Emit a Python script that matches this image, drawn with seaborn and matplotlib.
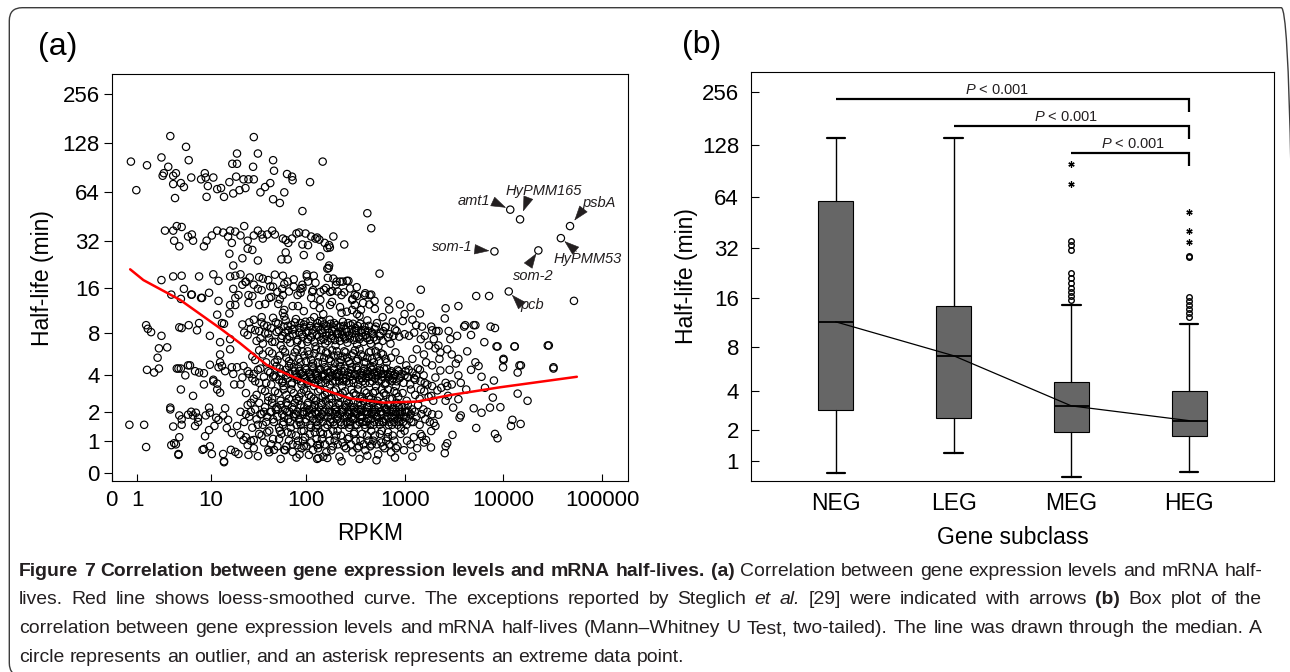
"""Figure 7: mRNA half-life against expression level (scatter + box plot)."""
import matplotlib

matplotlib.use("Agg")
import matplotlib.pyplot as plt
import numpy as np
import pandas as pd
import seaborn as sns
from matplotlib.patches import FancyBboxPatch

W, H = 1290, 672
INK = "#231f20"

# ---------------- panel (a): RPKM vs half-life (min) ----
top_band = [(0.72, 99), (0.95, 66), (1.5, 94), (2.5, 105), (3.3, 142), (5.2, 122), (5.6, 101),
            (2.6, 81), (2.7, 84), (3.1, 92), (3.6, 81), (3.9, 84), (3.6, 72), (4.5, 73), (4.9, 69),
            (3.8, 59), (6.0, 79), (7.8, 77), (8.6, 84), (8.8, 79), (9.3, 70), (10.7, 79), (9.0, 60),
            (11.8, 67), (13, 68), (14, 60), (16, 74), (17.2, 96), (19.3, 96), (19.3, 111), (18.9, 80),
            (22.6, 77), (25.5, 77), (29, 77), (28.5, 92), (29, 140), (32, 111), (17.6, 63), (20.5, 66),
            (23.7, 68), (34, 64), (38, 69), (43, 73), (46, 101), (47, 87), (46, 58), (54, 55), (60, 64),
            (64, 83), (72, 80), (73, 76), (110, 74), (92, 49), (148, 99), (420, 47.5)]

band_32 = [(2.8, 37), (3.6, 37), (4.0, 39.5), (4.6, 39), (3.7, 32), (4.3, 29.5), (5.5, 34), (6.1, 35),
           (6.3, 32), (8.4, 29.5), (9.0, 32), (10.3, 34.5), (11.8, 37), (13.7, 36), (15.5, 34),
           (16.3, 37), (18.5, 36.5), (21, 34.5), (23, 39.5), (25, 32), (29, 34.5), (32, 37), (35, 35),
           (40, 35), (45, 37), (25, 28.5), (28, 28), (17, 31), (16, 26.5), (17.6, 22.3), (22, 24.8),
           (32, 24), (58, 33), (62, 32.3), (72, 33), (80, 35.5), (92, 30.3), (99, 35.5), (113, 34),
           (125, 33), (137, 32.5), (56, 24.4), (65, 24.4), (165, 28.8), (170, 21.5), (172, 30),
           (245, 30.3), (172, 22.3), (460, 38.3), (36, 33), (48, 35), (66, 31), (85, 36), (105, 30),
           (130, 33.5), (155, 31), (190, 34), (62, 27), (95, 26), (140, 25.5), (175, 29)]

band_16 = [(2.5, 18), (3.6, 19), (4.6, 19.2), (4.9, 15.8), (6.1, 14.5), (7.4, 19), (8, 13.8),
           (10.7, 19.6), (12.2, 17.8), (16.3, 19), (18.5, 19.2), (21, 19.6), (23.7, 17.6), (26.3, 18.7),
           (29, 16.8), (32, 15.8), (36, 18.4), (41, 18), (46, 16.3), (51, 15.1), (58, 19.2), (65, 17.6),
           (75, 16.3), (88, 15.8), (102, 19.6), (120, 19.2), (140, 15.1), (165, 21.3), (18.5, 13.8),
           (25.5, 14.4), (42, 13.8), (58, 14.4), (17.6, 15.8), (22, 16.8), (3.4, 14.5), (4.5, 13.6),
           (6.0, 14.5), (7.8, 13.8), (9.6, 14.9), (12.2, 13.2), (16.3, 12.4), (18.5, 12.4), (20, 14.4),
           (25.5, 12.8), (33, 12.4), (44, 14), (52, 12.6), (60, 11.5), (73, 12.2), (82, 14.4),
           (92, 16.8), (116, 15.1), (120, 12.4), (140, 13.4), (176, 12.4), (185, 15.3), (558, 19.8),
           (105, 17.6), (190, 18.4), (222, 17.6), (260, 17.8), (230, 14.4), (295, 13.4), (330, 14.2),
           (460, 14.5), (497, 13.2), (688, 13.2), (1460, 15.6), (2600, 11.8), (3500, 12.2),
           (5300, 14.2), (7150, 14.2), (51500, 13.2), (314, 14.4), (395, 14.4), (443, 14.4),
           (260, 11.2), (295, 11.5), (314, 12.4), (236, 17.6), (205, 17.6), (176, 15.1), (24, 17.5),
           (28, 14.2), (33, 18.8), (38, 12.6), (43, 16.4), (48, 19.5), (54, 13.5), (60, 17.0),
           (67, 15.2), (75, 18.2), (83, 12.2), (92, 16.0), (102, 19.0), (113, 13.8), (125, 17.3),
           (138, 11.8), (152, 15.6), (167, 18.6), (184, 13.0), (202, 16.8), (222, 12.0), (245, 15.0),
           (270, 17.8), (298, 13.6), (328, 16.2), (362, 11.5), (400, 14.8), (440, 12.5), (35, 15.5),
           (57, 15.8), (88, 14.9), (118, 15.5), (160, 16.0), (210, 15.2), (280, 15.9), (58, 11.0),
           (95, 11.3), (150, 10.8), (230, 11.0), (330, 10.8)]

left_sparse = [(1.45, 9.1), (1.55, 8.6), (1.75, 8.16), (2.5, 7.7), (2.3, 6.3), (3.0, 6.4), (4.3, 8.8),
               (4.6, 8.7), (5.6, 9.1), (7.0, 8.4), (7.4, 9.4), (9.8, 7.7), (11.8, 10.7), (13.3, 9.4),
               (14, 9.3), (12.7, 6.96), (16, 10.9), (16.3, 7.3), (16.3, 6.2), (12.7, 5.7), (12.7, 5.0),
               (2.2, 5.4), (1.5, 4.4), (1.95, 4.2), (2.3, 4.5), (4.2, 4.5), (5.1, 4.0), (5.5, 4.75),
               (5.8, 4.75), (6.65, 4.3), (7.4, 4.2), (8.4, 4.15), (4.5, 3.1), (6.3, 2.75), (10.7, 3.7),
               (11.8, 3.45), (11.8, 3.1), (12.7, 2.92), (12.2, 4.6), (13.3, 4.7), (14.4, 4.3), (17, 4.6),
               (17.6, 4.1), (18, 3.4), (21, 3.4), (19.3, 4.6), (22.6, 4.7), (25, 4.3), (22, 3.85),
               (33, 3.5), (29, 4.1), (4.0, 4.5), (8.4, 3.4), (9.8, 4.8), (10.7, 3.6), (4.5, 4.5),
               (0.66, 1.5), (1.34, 1.5), (1.45, 0.83), (3.3, 2.1), (3.6, 1.44), (4.3, 1.85), (4.6, 1.7),
               (4.6, 1.5), (3.4, 0.88), (3.7, 0.93), (4.3, 1.1), (4.2, 0.66), (5.5, 1.88), (6.0, 2.0),
               (6.3, 1.85), (6.8, 1.96), (7.2, 1.76), (6.65, 1.46), (7.2, 1.6), (8.8, 1.85), (9.6, 2.18),
               (9.8, 1.96), (11.5, 1.76), (11, 1.46), (9.6, 1.32), (8.65, 1.13), (9.8, 0.85), (8.1, 0.76),
               (10.3, 0.66), (13.7, 0.66), (14, 0.5), (16.6, 0.76), (18.5, 0.71), (20, 0.66),
               (25.5, 0.64), (32, 0.61), (14.4, 2.15), (13.7, 1.85), (15.5, 1.68), (12.2, 1.68),
               (15, 1.39), (17, 1.23), (19.3, 1.46), (21, 1.17), (22.6, 1.02), (25, 0.88), (29, 1.02),
               (41, 0.76), (47, 0.76), (60, 0.76), (73, 0.71), (95, 0.85), (130, 0.88), (134, 0.57),
               (165, 0.57), (107, 0.64), (82, 0.88), (3.3, 2.18), (3.9, 0.9), (4.2, 0.64), (8.4, 0.78),
               (14, 0.48)]

right_sparse = [(1430, 10.9), (2550, 10.1), (960, 9.7), (525, 9.4), (1310, 9.1), (1500, 8.9),
                (1860, 8.9), (4000, 8.9), (5200, 9.1), (7400, 8.9), (8200, 8.7), (883, 7.6), (1110, 7.7),
                (1460, 7.3), (2090, 8.3), (2790, 8.3), (2900, 7.3), (3400, 7.7), (4700, 7.8),
                (6400, 6.96), (8500, 6.5), (12900, 6.5), (28700, 6.6), (2300, 5.9), (2050, 6.3),
                (2700, 6.2), (4300, 6.0), (10000, 5.2), (9900, 4.6), (14500, 4.75), (13900, 4.2),
                (32000, 4.5), (5200, 5.0), (4700, 4.4), (5600, 4.7), (3500, 4.0), (6000, 3.9),
                (8000, 3.65), (6500, 3.2), (13900, 2.87), (17500, 2.5), (7800, 2.66), (9300, 2.2),
                (7300, 2.18), (6000, 1.96), (5000, 2.15), (3700, 1.85), (3600, 1.76), (5300, 1.39),
                (12300, 1.68), (14900, 1.53), (11900, 1.46), (8200, 1.2), (8700, 1.07), (3050, 1.17),
                (2700, 0.93), (2600, 0.85), (2550, 0.68), (1850, 0.82), (1650, 1.02), (3500, 2.58),
                (3100, 2.18), (2600, 2.5), (2200, 1.88), (1975, 1.57), (2050, 1.46), (1860, 1.29),
                (1500, 1.13), (2350, 3.2), (2150, 3.05), (2750, 2.75), (4200, 3.1), (3700, 3.5),
                (3000, 3.4), (2700, 3.3), (1860, 2.75), (1900, 3.3), (1600, 3.5), (1460, 3.1),
                (3300, 4.9), (3500, 5.3), (2300, 4.35), (2850, 4.4), (1900, 4.75), (1650, 5.0),
                (2050, 3.85), (2600, 3.5), (2250, 5.3), (3000, 5.7), (1430, 4.4), (1310, 4.0),
                (1200, 5.3), (1040, 4.75), (1975, 7.3), (1760, 6.6), (2200, 6.6), (1330, 6.2),
                (1570, 5.7), (2210, 8.3), (4100, 9.1), (5000, 9.1), (8700, 6.5), (13000, 6.5),
                (15000, 4.75), (28000, 6.6), (32000, 4.6), (10000, 5.3), (350, 10.5), (420, 9.8),
                (600, 10.3), (760, 9.6), (1000, 10.8), (1200, 9.9), (700, 11.6), (900, 12.5),
                (1150, 12.0), (380, 12.8), (500, 11.7), (640, 8.9), (800, 8.5), (1000, 7.9), (1250, 8.1),
                (1600, 7.7), (1900, 8.4)]

# dense cloud, band by band (~8, ~5.5, ~4, ~3, ~2 and ~1 min)
core_8 = [(22, 9.2), (25, 7.8), (27, 8.6), (29, 9.9), (31, 7.1), (33, 8.3), (35, 9.5), (36, 6.8),
          (38, 8.0), (40, 9.0), (42, 7.4), (44, 8.7), (46, 10.2), (48, 7.0), (50, 8.2), (52, 9.3),
          (55, 6.6), (57, 7.7), (59, 8.9), (62, 9.8), (64, 7.3), (66, 8.4), (69, 6.9), (71, 9.1),
          (74, 7.9), (76, 8.6), (79, 10.0), (82, 7.2), (85, 8.1), (88, 9.4), (90, 6.7), (93, 7.6),
          (96, 8.8), (99, 9.6), (103, 7.0), (106, 8.3), (110, 9.0), (113, 7.5), (117, 8.5), (121, 10.3),
          (125, 6.5), (129, 7.8), (133, 8.9), (138, 9.7), (142, 7.2), (147, 8.0), (152, 9.2), (157, 6.8),
          (162, 7.7), (168, 8.6), (174, 9.9), (180, 7.4), (186, 8.3), (193, 9.4), (200, 6.6), (207, 7.9),
          (214, 8.8), (222, 7.1), (230, 8.2), (238, 9.6), (246, 7.5), (255, 8.5), (264, 6.9), (274, 7.8),
          (284, 9.1), (295, 8.0), (306, 7.2), (318, 8.7), (330, 6.7), (343, 7.6), (356, 9.3), (370, 8.1),
          (385, 7.0), (400, 8.4), (418, 7.4), (436, 9.0), (455, 6.8), (475, 7.9), (497, 8.6), (520, 7.2),
          (545, 6.5), (570, 8.0), (600, 7.1), (640, 8.8), (680, 7.5), (720, 6.8), (770, 7.7), (830, 8.3),
          (35, 10.3), (60, 10.4), (23, 8.1), (26, 9.5), (30, 8.4), (34, 7.4), (37, 9.1), (41, 8.0),
          (45, 7.0), (49, 9.5), (53, 8.4), (56, 7.4), (61, 8.1), (65, 9.0), (68, 7.6), (73, 8.5),
          (77, 9.5), (81, 7.0), (86, 8.7), (91, 7.9), (95, 9.2), (101, 8.1), (105, 7.3), (111, 9.7),
          (116, 8.0), (122, 7.0), (127, 8.8), (131, 9.4), (136, 7.6), (141, 8.4), (146, 9.6), (151, 7.3),
          (156, 8.5), (161, 9.0), (166, 7.1), (172, 8.1), (178, 9.3), (184, 7.7), (190, 8.8), (197, 7.2),
          (204, 9.1), (211, 8.0), (218, 7.5), (226, 8.9), (234, 7.8), (242, 9.0), (251, 7.3), (260, 8.2),
          (269, 9.4), (279, 7.4), (290, 8.5), (301, 9.3), (312, 7.5), (324, 8.3), (336, 9.0), (349, 7.3),
          (363, 8.4), (377, 7.6), (392, 8.9), (408, 7.8), (425, 8.3), (444, 7.2), (465, 8.1), (488, 7.5),
          (512, 8.9), (560, 7.7), (610, 8.3), (700, 7.9)]

core_5 = [(28, 5.5), (33, 6.1), (39, 5.0), (45, 5.8), (51, 5.2), (58, 6.2), (63, 5.4), (70, 4.9),
          (77, 5.9), (84, 5.3), (92, 6.0), (100, 5.1), (108, 5.7), (118, 4.9), (127, 6.2), (137, 5.5),
          (148, 5.0), (160, 5.9), (172, 5.3), (185, 6.1), (198, 4.9), (212, 5.6), (228, 5.2), (245, 6.0),
          (262, 5.4), (282, 4.9), (303, 5.8), (325, 5.1), (350, 6.2), (376, 5.5), (405, 5.0), (437, 5.9),
          (470, 5.3), (510, 6.0), (555, 5.1), (605, 5.7), (660, 5.0), (730, 5.4), (810, 5.9), (900, 5.2),
          (30, 5.2), (36, 5.7), (42, 6.0), (48, 5.0), (54, 5.6), (61, 5.9), (67, 5.1), (74, 5.5),
          (81, 6.2), (88, 5.0), (96, 5.6), (104, 6.0), (113, 5.2), (122, 5.8), (132, 5.0), (142, 6.1),
          (153, 5.4), (166, 5.8), (179, 5.1), (192, 5.6), (206, 6.0), (220, 5.0), (236, 5.5), (253, 5.9),
          (272, 5.1), (292, 5.6), (314, 6.1), (337, 5.3), (363, 5.7), (390, 5.0), (420, 5.4), (455, 6.0),
          (490, 5.0), (530, 5.5), (580, 5.8), (640, 5.3)]

core_4 = [(26, 4.1), (30, 3.6), (34, 4.5), (37, 3.9), (41, 4.3), (44, 3.4), (47, 4.0), (50, 4.7),
          (53, 3.7), (56, 4.2), (59, 3.3), (62, 4.4), (65, 3.8), (68, 4.1), (72, 3.5), (75, 4.6),
          (78, 4.0), (82, 3.7), (86, 4.3), (90, 3.4), (94, 4.0), (98, 4.5), (102, 3.6), (107, 4.2),
          (111, 3.9), (116, 4.7), (121, 3.3), (126, 4.1), (131, 3.8), (137, 4.4), (143, 3.5), (149, 4.0),
          (155, 4.6), (161, 3.7), (168, 4.2), (175, 3.4), (182, 4.0), (190, 4.5), (198, 3.6), (206, 4.1),
          (215, 3.9), (224, 4.7), (233, 3.3), (243, 4.3), (253, 3.8), (264, 4.0), (275, 3.5), (287, 4.4),
          (299, 3.7), (312, 4.1), (325, 4.6), (339, 3.4), (353, 4.0), (368, 3.8), (384, 4.3), (400, 3.5),
          (417, 4.1), (435, 3.9), (453, 4.6), (472, 3.6), (492, 4.2), (513, 3.3), (535, 4.0), (558, 4.4),
          (582, 3.7), (607, 4.1), (633, 3.4), (660, 4.5), (688, 3.9), (717, 4.2), (748, 3.6), (780, 4.0),
          (815, 3.3), (850, 4.4), (890, 3.8), (930, 4.1), (975, 3.5), (1020, 4.3), (1080, 3.9),
          (1140, 3.4), (1200, 4.2), (1280, 3.7), (1360, 4.5), (1450, 3.6), (1560, 4.0), (1700, 3.4),
          (46, 3.9), (88, 4.1), (132, 4.0), (176, 3.9), (220, 4.0), (290, 4.1), (380, 4.0), (470, 3.9),
          (580, 4.1), (720, 4.0), (57, 3.5), (115, 3.6), (240, 3.6), (470, 4.4),
          (28, 3.8), (32, 4.4), (39, 3.5), (43, 4.2), (49, 3.9), (54, 4.5), (58, 3.6), (63, 4.0),
          (67, 4.7), (71, 3.4), (77, 4.3), (81, 3.9), (84, 4.6), (89, 3.6), (93, 4.2), (97, 3.8),
          (101, 4.4), (105, 3.5), (110, 4.1), (114, 3.8), (119, 4.5), (124, 3.5), (129, 4.2), (135, 3.7),
          (141, 4.4), (146, 3.9), (152, 4.1), (158, 3.5), (165, 4.4), (171, 3.8), (178, 4.2), (186, 3.6),
          (194, 4.4), (202, 3.9), (211, 4.2), (219, 3.6), (228, 4.3), (238, 3.8), (248, 4.5), (258, 3.6),
          (270, 4.2), (281, 3.9), (293, 4.6), (305, 3.5), (318, 4.0), (332, 4.4), (346, 3.7), (361, 4.2),
          (376, 3.6), (392, 4.5), (409, 3.8), (426, 4.3), (444, 3.5), (463, 4.0), (482, 4.6), (503, 3.8),
          (524, 4.2), (546, 3.6), (570, 4.3), (594, 3.9), (620, 4.5), (646, 3.5), (675, 4.1), (704, 3.7),
          (735, 4.3), (766, 3.8), (800, 4.1), (835, 3.6), (872, 4.3), (910, 3.9), (1000, 4.0),
          (1100, 4.4), (1250, 3.8)]

core_3 = [(24, 2.9), (29, 2.6), (35, 3.1), (41, 2.7), (48, 3.0), (55, 2.5), (63, 2.8), (71, 3.1),
          (80, 2.6), (90, 2.9), (101, 3.0), (113, 2.7), (126, 2.5), (140, 3.1), (156, 2.8), (173, 2.6),
          (192, 3.0), (213, 2.7), (236, 2.9), (262, 2.5), (290, 3.1), (321, 2.8), (355, 2.6), (393, 3.0),
          (435, 2.7), (480, 2.9), (530, 2.5), (585, 3.1), (645, 2.8), (710, 2.6), (785, 3.0), (865, 2.7),
          (955, 2.9), (1050, 2.5), (1160, 3.1), (1280, 2.8), (1420, 2.6), (1580, 3.0), (1750, 2.7),
          (1950, 2.5), (31, 2.8), (38, 3.0), (45, 2.6), (52, 2.9), (59, 3.1), (67, 2.6), (75, 2.9),
          (85, 2.7), (95, 3.1), (107, 2.8), (120, 2.6), (133, 3.0), (148, 2.7), (164, 2.9), (182, 2.6),
          (202, 3.1), (224, 2.8), (249, 3.0), (276, 2.7), (305, 2.9), (337, 3.1), (373, 2.7), (413, 2.9),
          (457, 2.6), (505, 3.0), (558, 2.7), (616, 2.9), (680, 3.1), (752, 2.6), (830, 2.9)]

core_2 = [(21, 2.0), (23, 1.6), (25, 2.3), (26, 1.8), (28, 1.4), (30, 2.1), (31, 1.7), (33, 2.4),
          (35, 1.9), (36, 1.5), (38, 2.2), (40, 1.8), (42, 1.3), (43, 2.0), (45, 2.4), (47, 1.6),
          (49, 2.1), (51, 1.8), (53, 1.4), (55, 2.3), (57, 1.9), (59, 1.6), (61, 2.1), (63, 2.4),
          (66, 1.7), (68, 2.0), (70, 1.4), (72, 2.2), (75, 1.8), (77, 2.4), (80, 1.5), (82, 2.0),
          (85, 1.7), (88, 2.3), (90, 1.3), (93, 1.9), (96, 2.2), (99, 1.6), (102, 2.0), (105, 2.4),
          (109, 1.8), (112, 1.4), (116, 2.1), (119, 1.7), (123, 2.3), (127, 1.9), (131, 1.5), (135, 2.2),
          (139, 1.8), (143, 2.4), (148, 1.6), (152, 2.0), (157, 1.4), (162, 2.1), (167, 1.8), (172, 2.3),
          (177, 1.6), (183, 2.0), (189, 1.3), (195, 1.9), (201, 2.2), (207, 1.7), (214, 2.4), (221, 1.9),
          (228, 1.5), (235, 2.1), (243, 1.8), (250, 2.3), (258, 1.6), (266, 2.0), (275, 1.4), (284, 2.2),
          (293, 1.8), (302, 2.4), (312, 1.7), (322, 2.0), (332, 1.5), (343, 2.1), (354, 1.8), (365, 2.3),
          (377, 1.6), (389, 2.0), (402, 1.4), (415, 2.2), (428, 1.9), (442, 2.4), (456, 1.7), (471, 2.0),
          (486, 1.5), (502, 2.1), (518, 1.8), (535, 2.3), (552, 1.6), (570, 2.0), (588, 1.3), (607, 1.9),
          (627, 2.2), (647, 1.7), (668, 2.0), (690, 1.5), (712, 2.3), (735, 1.8), (759, 2.1), (784, 1.6),
          (810, 1.9), (836, 2.4), (863, 1.7), (891, 2.0), (920, 1.4), (950, 2.2), (981, 1.8), (1013, 2.0),
          (1046, 1.5), (1080, 2.3), (1115, 1.7), (1152, 1.9), (1190, 2.1), (1230, 1.6), (1270, 2.0),
          (1320, 1.8), (1370, 2.3), (1420, 1.5), (1480, 1.9), (1550, 2.1), (1620, 1.7), (1700, 2.0),
          (1800, 1.6), (1900, 1.9), (27, 2.0), (34, 1.9), (44, 2.0), (52, 2.1), (64, 2.0), (76, 1.9),
          (92, 2.0), (108, 2.1), (124, 2.0), (146, 1.9), (170, 2.0), (198, 2.1), (232, 2.0), (270, 1.9),
          (310, 2.0), (360, 2.1), (420, 2.0), (490, 1.9), (570, 2.0), (660, 2.1), (770, 2.0), (900, 1.9),
          (1050, 2.0), (39, 1.6), (58, 1.5), (86, 1.6), (128, 1.6), (190, 1.6), (280, 1.6), (410, 1.6),
          (600, 1.6), (880, 1.6), (24, 1.9), (27, 2.4), (32, 1.5), (37, 2.0), (41, 2.5), (46, 1.7),
          (50, 2.2), (54, 1.3), (60, 1.8), (65, 2.3), (69, 1.6), (74, 2.1), (79, 1.9), (84, 2.5),
          (89, 1.5), (95, 2.0), (100, 1.7), (104, 2.3), (111, 1.5), (115, 1.9), (121, 2.2), (126, 1.4),
          (133, 2.0), (137, 1.7), (145, 2.3), (151, 1.8), (159, 2.5), (165, 1.5), (174, 2.0), (181, 1.7),
          (187, 2.4), (196, 1.5), (204, 2.0), (211, 1.8), (219, 2.3), (226, 1.6), (238, 2.0), (247, 1.5),
          (254, 2.2), (262, 1.8), (272, 2.4), (280, 1.5), (290, 2.0), (298, 1.7), (308, 2.2), (318, 1.5),
          (327, 1.9), (338, 2.4), (349, 1.6), (359, 2.0), (372, 1.8), (383, 2.5), (395, 1.5), (409, 2.0),
          (422, 1.7), (436, 2.2), (450, 1.5), (464, 1.9), (480, 2.4), (495, 1.6), (512, 2.0), (528, 1.8),
          (546, 2.2), (562, 1.5), (580, 1.9), (598, 2.4), (618, 1.6), (638, 2.1), (658, 1.8), (680, 2.3),
          (702, 1.6), (724, 2.0), (748, 1.5), (772, 2.2), (797, 1.8), (822, 2.0), (850, 1.5), (878, 2.2),
          (906, 1.8), (935, 2.0), (966, 1.6), (998, 2.3), (1030, 1.8), (1100, 2.0), (1170, 1.6)]

core_1 = [(24, 1.1), (29, 0.8), (33, 1.2), (37, 0.95), (42, 0.7), (46, 1.05), (51, 0.85), (56, 1.2),
          (61, 0.75), (67, 1.0), (73, 0.9), (79, 1.15), (86, 0.65), (93, 1.0), (101, 0.85), (109, 1.2),
          (118, 0.75), (128, 1.05), (138, 0.9), (149, 1.2), (161, 0.7), (174, 1.0), (188, 0.85),
          (203, 1.15), (219, 0.6), (236, 0.95), (255, 0.8), (275, 1.1), (297, 0.7), (320, 1.0),
          (345, 0.85), (372, 1.2), (401, 0.75), (432, 1.0), (466, 0.9), (502, 1.15), (541, 0.65),
          (583, 0.95), (628, 0.8), (677, 1.1), (730, 0.7), (787, 1.0), (848, 0.85), (914, 1.2),
          (985, 0.75), (1060, 1.0), (1150, 0.9), (1240, 1.1), (1340, 0.8), (1450, 1.2), (1570, 0.95),
          (40, 1.25), (65, 1.25), (95, 1.3), (140, 1.25), (210, 1.3), (310, 1.25), (460, 1.3),
          (680, 1.25), (1000, 1.3), (55, 0.55), (80, 0.58), (130, 0.55), (230, 0.5), (350, 0.55),
          (520, 0.52), (800, 0.58), (1200, 0.6), (150, 0.6), (420, 0.62), (27, 1.0), (35, 1.15),
          (44, 0.9), (53, 1.05), (63, 0.85), (71, 1.2), (83, 1.0), (90, 0.8), (98, 1.1), (113, 0.95),
          (123, 1.25), (133, 0.8), (145, 1.05), (156, 0.9), (168, 1.2), (181, 0.75), (196, 1.0),
          (211, 0.9), (227, 1.15), (245, 0.85), (265, 1.05), (286, 0.9), (308, 1.2), (333, 0.8),
          (358, 1.0), (386, 0.9), (416, 1.15), (449, 0.85), (484, 1.0), (521, 0.9), (562, 1.2),
          (605, 0.85), (652, 1.0), (703, 0.9), (758, 1.15), (817, 0.8)]

# exceptions flagged by Steglich et al.
genes = ["amt1", "HyPMM165", "psbA", "HyPMM53", "som-1", "som-2", "pcb"]
gene_rpkm = [11700, 14700, 47000, 38000, 8100, 22500, 11300]
gene_hl = [50, 43.5, 39.5, 33.2, 27.4, 27.8, 15.2]

# loess curve
loess_rpkm = [0.69, 1.3, 4.4, 12.7, 20.8, 39.6, 87, 176, 281, 611, 1333, 2890, 9250, 55100]
loess_hl = [21.1, 18.0, 13.4, 8.67, 6.84, 4.78, 3.69, 2.97, 2.62, 2.41, 2.46, 2.79, 3.23, 3.9]

# ---------------- panel (b): box plot per gene subclass ----------------------
subclasses = ["NEG", "LEG", "MEG", "HEG"]
box_q1 = [2.91, 2.54, 1.92, 1.78]
box_med = [11.5, 7.0, 3.13, 2.40]
box_q3 = [60.4, 14.4, 4.68, 4.03]
box_lo = [0.715, 1.23, 0.627, 0.73]
box_hi = [139.8, 139.8, 14.5, 11.2]
outliers = {"NEG": [], "LEG": [],
            "MEG": [35.3, 33.4, 31.2, 22.8, 21.3, 19.8, 18.5, 17.5, 16.6, 15.7],
            "HEG": [28.2, 28.8, 16.3, 15.4, 14.6, 13.8, 13.0, 12.3]}
extremes = {"MEG": [99, 75.5], "HEG": [52.3, 40.5, 34.6]}

# Mann-Whitney comparisons against HEG
cmp_from = [0, 1, 2]
cmp_level = [234, 164, 114]
cmp_drop = [198, 138, 96.4]
cmp_text = ["$P$ < 0.001", "$P$ < 0.001", "$P$ < 0.001"]
cmp_text_x = [1.366, 1.953, 2.524]
cmp_text_y = [248.7, 174.5, 122]

# caption runs: (text, weight, style); the first three lines are justified
caption_lines = [
    [("Figure 7 Correlation between gene expression levels and mRNA half-lives.", "bold", "normal"),
     ("(a)", "bold", "normal"),
     ("Correlation between gene expression levels and mRNA half-", "normal", "normal")],
    [("lives. Red line shows loess-smoothed curve. The exceptions reported by Steglich", "normal", "normal"),
     ("et al.", "normal", "italic"),
     ("[29] were indicated with arrows", "normal", "normal"),
     ("(b)", "bold", "normal"),
     ("Box plot of the", "normal", "normal")],
    [("correlation between gene expression levels and mRNA half-lives (Mann\u2013Whitney U Test, "
      "two-tailed). The line was drawn through the median. A", "normal", "normal")],
    [("circle represents an outlier, and an asterisk represents an extreme data point.", "normal", "normal")],
]
caption_justify = [True, True, True, False]
caption_baselines = [576, 604.5, 633, 661.5]


def log10p(x):
    return np.log10(np.maximum(np.asarray(x, dtype=float) + 1.0, 1e-12))


def exp10m(u):
    return np.power(10.0, np.asarray(u, dtype=float)) - 1.0


def log2p(y):
    return np.log2(np.maximum(np.asarray(y, dtype=float) + 1.0, 1e-12))


def exp2m(u):
    return np.power(2.0, np.asarray(u, dtype=float)) - 1.0


def px_rect(x0, y0, x1, y1):
    return [x0 / W, 1 - y1 / H, (x1 - x0) / W, (y1 - y0) / H]


sns.set_theme(style="ticks", rc={
    "axes.edgecolor": "black", "axes.linewidth": 0.8, "text.color": "black",
    "axes.labelcolor": "black", "xtick.color": "black", "ytick.color": "black",
})
plt.rcParams["font.family"] = ["Liberation Sans", "DejaVu Sans"]
plt.rcParams["mathtext.fontset"] = "custom"
plt.rcParams["mathtext.rm"] = "Liberation Sans"
plt.rcParams["mathtext.it"] = "Liberation Sans:italic"

fig = plt.figure(figsize=(W / 100, H / 100), dpi=100)
fig.patch.set_facecolor("white")

# ---------------- (a) scatter ----------------
ax1 = fig.add_axes(px_rect(111.7, 74.3, 628.3, 481))
ax1.set_xscale("function", functions=(log10p, exp10m))
ax1.set_yscale("function", functions=(log2p, exp2m))

points = pd.DataFrame(top_band + band_32 + band_16 + left_sparse + right_sparse + core_8 + core_5
                      + core_4 + core_3 + core_2 + core_1 + list(zip(gene_rpkm, gene_hl)),
                      columns=["rpkm", "hl"])
sns.scatterplot(data=points, x="rpkm", y="hl", ax=ax1, s=28, linewidth=0.85, legend=False)
dots = ax1.collections[-1]
dots.set_facecolor("none")
dots.set_edgecolor("black")

sns.lineplot(x=loess_rpkm, y=loess_hl, sort=False, estimator=None, color="#ff0000", lw=1.8, ax=ax1)

# arrows + labels: (text dx, dy, ha) and (arrow base dx, dy, gap), in pixels
label_pos = {"amt1": (-20, 9, "right"), "HyPMM165": (24, 28, "center"), "psbA": (12, 23, "left"),
             "HyPMM53": (27, -21, "center"), "som-1": (-22, 4, "right"), "som-2": (-5, -26, "center"),
             "pcb": (12, -14, "left")}
arrow_pos = {"amt1": (-16.6, 7.7, 4.6), "HyPMM165": (7.5, 19.7, 8.5), "psbA": (13.3, 17, 7),
             "HyPMM53": (15.7, -13.3, 4.6), "som-1": (-18.5, 2, 5), "som-2": (-10, -15, 3.5),
             "pcb": (13.7, -14.7, 4.6)}
for name, gx, gy in zip(genes, gene_rpkm, gene_hl):
    tx, ty, ha = label_pos[name]
    bx, by, gap = arrow_pos[name]
    ax1.annotate(name, xy=(gx, gy), xytext=(tx, ty), textcoords="offset pixels", ha=ha, va="center",
                 fontsize=10.5, fontstyle="italic", color=INK)
    ax1.annotate("", xy=(gx, gy), xytext=(bx, by), textcoords="offset pixels",
                 arrowprops=dict(arrowstyle="-|>,head_length=1.0,head_width=0.34", mutation_scale=10,
                                 color=INK, lw=0.4, shrinkA=0, shrinkB=gap * 0.72))

ax1.set_xlim(0.1, 182400)
ax1.set_ylim(0.137, 339)
ax1.set_xticks([0.1, 1, 10, 100, 1000, 10000, 100000],
               ["0", "1", "10", "100", "1000", "10000", "100000"])
ax1.set_yticks([0.266, 1, 2, 4, 8, 16, 32, 64, 128, 256],
               ["0", "1", "2", "4", "8", "16", "32", "64", "128", "256"])
ax1.minorticks_off()
ax1.tick_params(axis="y", direction="out", length=5.8, width=0.8, pad=2.7, labelsize=16)
ax1.tick_params(axis="x", direction="in", length=5, width=0.8, pad=6.3, labelsize=16)
ax1.set_xlabel("RPKM", fontsize=16.5, labelpad=8)
ax1.set_ylabel("Half-life (min)", fontsize=16.5, labelpad=6)

# ---------------- (b) box plot ----------------
ax2 = fig.add_axes(px_rect(750.7, 71.7, 1274.3, 481.3))
ax2.set_yscale("function", functions=(log2p, exp2m))
stats = [dict(med=box_med[i], q1=box_q1[i], q3=box_q3[i], whislo=box_lo[i], whishi=box_hi[i],
              fliers=outliers[g]) for i, g in enumerate(subclasses)]
ax2.bxp(stats, positions=range(len(subclasses)), widths=0.297, capwidths=0.155, patch_artist=True,
        boxprops=dict(facecolor="#666666", edgecolor="black", linewidth=0.8),
        whiskerprops=dict(color="black", linewidth=1.0),
        capprops=dict(color="black", linewidth=1.6),
        medianprops=dict(color="black", linewidth=1.3),
        flierprops=dict(marker="o", markerfacecolor="none", markeredgecolor="black",
                        markersize=4.0, markeredgewidth=1.0),
        manage_ticks=False)
for g, vals in extremes.items():
    pos = subclasses.index(g)
    ax2.plot([pos] * len(vals), vals, ls="none", marker=(6, 2, 0), ms=4.5, mew=0.9, color="black")

sns.lineplot(x=list(range(len(subclasses))), y=box_med, estimator=None, color="black", lw=0.9,
             ax=ax2, zorder=5)

last = len(subclasses) - 1
for x0, lvl, drop, txt, tx, ty in zip(cmp_from, cmp_level, cmp_drop, cmp_text, cmp_text_x, cmp_text_y):
    ax2.plot([x0, last, last], [lvl, lvl, drop], color="black", lw=1.6, solid_capstyle="butt",
             solid_joinstyle="miter")
    ax2.text(tx, ty, txt, ha="center", va="baseline", fontsize=10.5, color=INK)

ax2.set_xlim(-0.721, 3.721)
ax2.set_ylim(0.53, 336)
ax2.set_xticks(range(len(subclasses)), subclasses)
ax2.set_yticks([1, 2, 4, 8, 16, 32, 64, 128, 256],
               ["1", "2", "4", "8", "16", "32", "64", "128", "256"])
ax2.minorticks_off()
ax2.tick_params(axis="y", direction="in", length=5.5, width=0.8, pad=8.4, labelsize=16)
ax2.tick_params(axis="x", length=0, pad=7.5, labelsize=16.5)
ax2.set_xlabel("Gene subclass", fontsize=16.5, labelpad=8)
ax2.set_ylabel("Half-life (min)", fontsize=16.5, labelpad=3)

fig.text(38 / W, 1 - 47 / H, "(a)", fontsize=23, ha="left", va="center")
fig.text(682 / W, 1 - 45 / H, "(b)", fontsize=23, ha="left", va="center")

# rounded frame around the whole figure (right and bottom edges sit just off the canvas)
fig.add_artist(FancyBboxPatch((0.093, -0.04), 12.85, 6.683,
                              boxstyle="round,pad=0,rounding_size=0.13",
                              transform=fig.dpi_scale_trans, fill=False, ec="#3c3c3c", lw=1.0))

# caption, set word by word: size fitted so the full lines reach the right margin, then justified
renderer = fig.canvas.get_renderer()
CAP_LEFT, CAP_RIGHT = 19, 1262


def text_width(s, size, weight="normal", style="normal"):
    t = fig.text(0, 0, s, fontsize=size, fontweight=weight, fontstyle=style)
    w = t.get_window_extent(renderer).width
    t.remove()
    return w


def line_words(line):
    return [(w, wt, st) for txt, wt, st in line for w in txt.split(" ")]


def natural_width(words, size):
    gap = text_width("a a", size) - text_width("aa", size)
    return sum(text_width(w, size, wt, st) for w, wt, st in words) + gap * (len(words) - 1)


cap_size = min(10 * (CAP_RIGHT - CAP_LEFT) / natural_width(line_words(caption_lines[0]), 10),
               10 * (CAP_RIGHT - CAP_LEFT) / natural_width(line_words(caption_lines[2]), 10))
natural_space = text_width("a a", cap_size) - text_width("aa", cap_size)
for line, base, justify in zip(caption_lines, caption_baselines, caption_justify):
    words = line_words(line)
    widths = [text_width(w, cap_size, wt, st) for w, wt, st in words]
    space = natural_space
    if justify and len(words) > 1:
        space = max(natural_space, (CAP_RIGHT - CAP_LEFT - sum(widths)) / (len(words) - 1))
    x = CAP_LEFT
    for (w, wt, st), wd in zip(words, widths):
        fig.text(x / W, 1 - base / H, w, fontsize=cap_size, fontweight=wt, fontstyle=st,
                 ha="left", va="baseline", color=INK)
        x += wd + space

fig.savefig("out.png", dpi=100)
